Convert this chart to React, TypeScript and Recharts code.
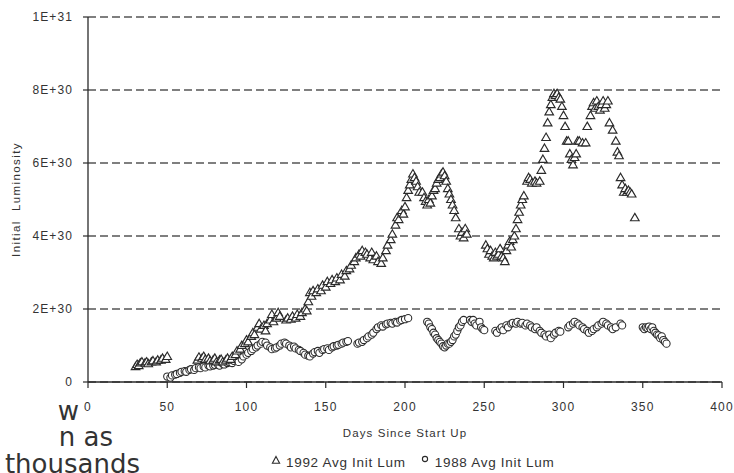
import React from "react";
import { ScatterChart, Scatter, XAxis, YAxis, CartesianGrid } from "recharts";

// luminosity values are read in units of 1E+30
const lum1992: [number, number][] = [
  [30, 0.42], [31, 0.48], [32, 0.45], [33, 0.52], [34, 0.55], [36, 0.52], [37, 0.55], [38, 0.5],
  [40, 0.55], [41, 0.58], [43, 0.55], [44, 0.6], [46, 0.6], [47, 0.65], [49, 0.62], [50, 0.7],
  [69, 0.6], [70, 0.68], [72, 0.65], [73, 0.7], [74, 0.62], [76, 0.65], [77, 0.58], [79, 0.6],
  [80, 0.65], [81, 0.55], [83, 0.6], [84, 0.62], [85, 0.55], [87, 0.6], [88, 0.65], [90, 0.62],
  [91, 0.7], [93, 0.75], [94, 0.85], [96, 0.9], [97, 1.0], [99, 1.05], [100, 1.15], [101, 1.1],
  [103, 1.25], [104, 1.35], [105, 1.3], [107, 1.5], [108, 1.6], [109, 1.45], [111, 1.55], [112, 1.4],
  [113, 1.6], [115, 1.7], [116, 1.85], [117, 1.65], [119, 1.75], [120, 1.9], [121, 1.8],
  [125, 1.7], [126, 1.75], [128, 1.72], [129, 1.8], [131, 1.75], [132, 1.85], [134, 1.8], [135, 1.9],
  [137, 2.0], [138, 1.95], [139, 2.2], [140, 2.45], [141, 2.35], [142, 2.5], [144, 2.45], [145, 2.55],
  [147, 2.5], [148, 2.65], [150, 2.6], [151, 2.75], [153, 2.7], [154, 2.8], [156, 2.75], [157, 2.85],
  [159, 2.8], [160, 2.95], [162, 2.9], [163, 3.05], [165, 3.1], [166, 3.2], [168, 3.3], [169, 3.4],
  [171, 3.5], [172, 3.45], [173, 3.6], [175, 3.55], [176, 3.5], [178, 3.4], [179, 3.55], [180, 3.35],
  [182, 3.45], [183, 3.3], [185, 3.25], [186, 3.4], [188, 3.6], [189, 3.75], [191, 3.9], [192, 4.05],
  [194, 4.3], [195, 4.5], [196, 4.45], [198, 4.7], [199, 4.6], [200, 4.8], [201, 5.05], [202, 5.25],
  [203, 5.4], [204, 5.55], [205, 5.7], [206, 5.6], [207, 5.5], [208, 5.35], [209, 5.2], [211, 5.2],
  [212, 5.05], [213, 4.95], [214, 4.85], [215, 5.0], [216, 4.9], [217, 5.1], [218, 5.25], [219, 5.3],
  [220, 5.45], [221, 5.55], [222, 5.6], [223, 5.7], [224, 5.75], [225, 5.65], [226, 5.5], [227, 5.3],
  [228, 5.15], [229, 5.0], [230, 4.85], [231, 4.7], [232, 4.5], [234, 4.2], [235, 4.0], [236, 4.1],
  [237, 3.95], [238, 4.2], [239, 4.05],
  [251, 3.75], [252, 3.65], [253, 3.5], [254, 3.6], [255, 3.45], [256, 3.4], [257, 3.55], [258, 3.45],
  [259, 3.5], [260, 3.65], [261, 3.45], [262, 3.4], [263, 3.3], [264, 3.6], [265, 3.75], [266, 3.85],
  [267, 3.7], [268, 3.9], [269, 4.0], [270, 4.2], [271, 4.45], [272, 4.65], [273, 4.85], [274, 5.0],
  [275, 5.1], [277, 5.5], [278, 5.6], [279, 5.55], [280, 5.45], [282, 5.5], [283, 5.45], [285, 5.5],
  [286, 5.8], [287, 6.1], [288, 6.4], [289, 6.7], [290, 7.1], [291, 7.4], [292, 7.6], [293, 7.8],
  [294, 7.9], [295, 7.85], [296, 7.9], [297, 7.8], [298, 7.75], [299, 7.55], [300, 7.3], [301, 7.0],
  [302, 6.6], [303, 6.6], [304, 6.25], [305, 6.1], [306, 5.95], [307, 6.15], [308, 6.25], [309, 6.6],
  [310, 6.6], [312, 6.55], [314, 6.55], [315, 7.0], [317, 7.3], [318, 7.55], [319, 7.65], [320, 7.5],
  [321, 7.7], [322, 7.55], [323, 7.45], [324, 7.6], [325, 7.7], [326, 7.5], [327, 7.6], [328, 7.7],
  [329, 7.1], [331, 6.9], [333, 6.6], [334, 6.3], [335, 6.2], [336, 5.6], [337, 5.4], [338, 5.2],
  [339, 5.3], [340, 5.2], [341, 5.25], [342, 5.2], [343, 5.15], [345, 4.5],
];

const lum1988: [number, number][] = [
  [50, 0.15], [52, 0.12], [53, 0.18], [55, 0.2], [56, 0.22], [58, 0.25], [59, 0.28], [61, 0.3],
  [62, 0.28], [64, 0.33], [65, 0.35], [67, 0.33], [68, 0.38], [70, 0.4], [71, 0.38], [73, 0.42],
  [74, 0.4], [76, 0.45], [77, 0.43], [79, 0.45], [80, 0.47], [82, 0.48], [83, 0.45], [85, 0.5],
  [86, 0.48], [88, 0.52], [89, 0.55], [91, 0.52], [92, 0.58], [94, 0.6], [95, 0.55], [97, 0.62],
  [98, 0.7], [100, 0.75], [101, 0.8], [103, 0.85], [104, 0.9], [106, 0.95], [107, 1.0], [109, 1.05],
  [110, 1.1], [112, 1.08], [113, 1.0], [115, 0.95], [116, 0.9], [118, 0.92], [119, 0.95], [121, 1.0],
  [122, 1.05], [124, 1.08], [125, 1.05], [127, 1.0], [128, 0.95], [130, 0.97], [131, 0.92], [133, 0.88],
  [134, 0.85], [136, 0.8], [137, 0.75], [139, 0.72], [140, 0.7], [142, 0.78], [143, 0.82], [145, 0.85],
  [146, 0.8], [148, 0.88], [149, 0.9], [151, 0.92], [152, 0.88], [154, 0.95], [155, 0.98], [157, 1.0],
  [158, 1.02], [160, 1.05], [161, 1.08], [163, 1.1], [164, 1.12],
  [170, 1.05], [171, 1.08], [173, 1.1], [174, 1.15], [176, 1.2], [177, 1.25], [179, 1.3], [180, 1.35],
  [182, 1.45], [183, 1.5], [185, 1.55], [186, 1.52], [188, 1.58], [189, 1.6], [191, 1.62], [192, 1.6],
  [194, 1.65], [195, 1.63], [197, 1.68], [198, 1.7], [200, 1.72], [202, 1.75],
  [214, 1.65], [215, 1.6], [216, 1.5], [217, 1.45], [218, 1.35], [219, 1.3], [220, 1.2], [221, 1.15],
  [222, 1.1], [223, 1.05], [224, 0.98], [225, 0.95], [226, 1.0], [227, 1.05], [228, 1.05], [229, 1.1],
  [230, 1.15], [231, 1.25], [232, 1.3], [233, 1.4], [234, 1.5], [235, 1.55], [236, 1.65], [237, 1.7],
  [241, 1.7], [242, 1.65], [243, 1.7], [244, 1.6], [245, 1.55], [247, 1.65], [248, 1.5], [249, 1.45],
  [250, 1.42],
  [257, 1.4], [258, 1.35], [260, 1.45], [261, 1.5], [262, 1.42], [264, 1.55], [265, 1.5], [267, 1.6],
  [268, 1.62], [270, 1.6], [271, 1.65], [273, 1.6], [274, 1.62], [276, 1.55], [277, 1.6], [279, 1.55],
  [280, 1.5], [282, 1.45], [283, 1.5], [285, 1.4], [286, 1.35], [288, 1.3], [289, 1.25], [291, 1.3],
  [292, 1.2], [294, 1.3], [295, 1.35], [297, 1.4], [298, 1.38],
  [303, 1.5], [304, 1.55], [306, 1.6], [307, 1.65], [309, 1.6], [310, 1.55], [312, 1.5], [313, 1.45],
  [315, 1.4], [316, 1.35], [318, 1.4], [319, 1.45], [321, 1.5], [322, 1.55], [324, 1.6], [325, 1.65],
  [327, 1.6], [328, 1.55], [330, 1.5], [331, 1.45], [333, 1.5], [336, 1.6], [337, 1.55],
  [350, 1.5], [351, 1.45], [352, 1.5], [353, 1.48], [354, 1.52], [355, 1.45], [356, 1.5], [357, 1.4],
  [358, 1.35], [359, 1.3], [360, 1.28], [361, 1.2], [362, 1.25], [363, 1.15], [364, 1.1], [365, 1.05],
];

const xTicks = [0, 50, 100, 150, 200, 250, 300, 350, 400];
const yTicks = [0, 2, 4, 6, 8, 10];
const yTickLabels = ["0", "2E+30", "4E+30", "6E+30", "8E+30", "1E+31"];

// tails of body text from the scanned page, cut at the left edge
const pageLines = [
  { text: "w", right: 79, baseline: 420 },
  { text: "n as", right: 113, baseline: 446 },
  { text: "thousands", right: 140, baseline: 473 },
];

const data1992 = lum1992.map(([day, lum]) => ({ day, lum }));
const data1988 = lum1988.map(([day, lum]) => ({ day, lum }));

const FONT = "'Liberation Sans', Arial, sans-serif";
const INK = "#2a2a2a";

const TriangleDot = (props: any) => {
  const { cx, cy } = props;
  if (cx == null || cy == null) return null;
  return (
    <path
      d={`M${cx},${cy - 4.4}L${cx + 4.3},${cy + 3}L${cx - 4.3},${cy + 3}Z`}
      fill="#fff"
      stroke={INK}
      strokeWidth={1.15}
    />
  );
};

const CircleDot = (props: any) => {
  const { cx, cy } = props;
  if (cx == null || cy == null) return null;
  return <circle cx={cx} cy={cy} r={3.6} fill="#fff" stroke={INK} strokeWidth={1.05} />;
};

const YLabel = (props: any) => {
  const vb = props.viewBox || {};
  const cy = vb.y != null ? vb.y + vb.height / 2 : 200;
  return (
    <text
      x={16}
      y={cy}
      transform={`rotate(-90 16 ${cy})`}
      textAnchor="middle"
      dominantBaseline="central"
      fill="#333"
      fontSize={11.5}
      letterSpacing={1.4}
      fontFamily={FONT}
    >
      Initial&#160;&#160;Luminosity
    </text>
  );
};

export default function App() {
  const tick = { fill: "#333", fontSize: 12, fontFamily: FONT, letterSpacing: 1.1 };
  return (
    <div style={{ position: "absolute", left: 0, top: 0, width: 734, height: 473, background: "#fff", overflow: "hidden" }}>
      <ScatterChart width={734} height={473} margin={{ top: 17, right: 12, bottom: 35, left: 0 }}>
        <CartesianGrid horizontal vertical={false} stroke="#555" strokeWidth={1.3} strokeDasharray="8 4" />
        <XAxis
          type="number"
          dataKey="day"
          domain={[0, 400]}
          ticks={xTicks}
          height={56}
          tickSize={6}
          tickMargin={14}
          tick={tick}
          axisLine={{ stroke: INK, strokeWidth: 1.3 }}
          tickLine={{ stroke: INK, strokeWidth: 1.2 }}
          label={{ value: "Days  Since  Start  Up", position: "insideBottom", offset: 1, fill: "#333", fontSize: 11.5, fontFamily: FONT, letterSpacing: 1.1 }}
        />
        <YAxis
          type="number"
          dataKey="lum"
          domain={[0, 10]}
          ticks={yTicks}
          width={88}
          tickSize={5}
          tickMargin={10}
          tick={tick}
          tickFormatter={(v: number) => yTickLabels[yTicks.indexOf(v)] ?? ""}
          axisLine={{ stroke: INK, strokeWidth: 1.3 }}
          tickLine={{ stroke: INK, strokeWidth: 1.2 }}
          label={<YLabel />}
        />
        <Scatter name="1988 Avg Init Lum" data={data1988} shape={CircleDot} isAnimationActive={false} />
        <Scatter name="1992 Avg Init Lum" data={data1992} shape={TriangleDot} isAnimationActive={false} />
      </ScatterChart>

      <div
        style={{
          position: "absolute",
          left: 271,
          top: 455,
          display: "flex",
          alignItems: "center",
          fontFamily: FONT,
          fontSize: 13.5,
          letterSpacing: 0.7,
          color: "#333",
          whiteSpace: "nowrap",
        }}
      >
        <svg width={10} height={10} style={{ marginRight: 5, marginTop: -5 }}>
          <path d="M5,1.5L8.6,8.2L1.4,8.2Z" fill="none" stroke={INK} strokeWidth={1.1} />
        </svg>
        <span>1992 Avg Init Lum</span>
        <svg width={10} height={10} style={{ marginLeft: 14, marginRight: 5, marginTop: -8 }}>
          <circle cx={5} cy={5} r={2.6} fill="none" stroke={INK} strokeWidth={1.1} />
        </svg>
        <span>1988 Avg Init Lum</span>
      </div>

      <svg width={734} height={473} style={{ position: "absolute", left: 0, top: 0, pointerEvents: "none" }}>
        {pageLines.map((l) => (
          <text key={l.text} x={l.right} y={l.baseline} textAnchor="end" fontFamily="'DejaVu Sans', sans-serif" fontSize={26} fill="#333">
            {l.text}
          </text>
        ))}
      </svg>
    </div>
  );
}
